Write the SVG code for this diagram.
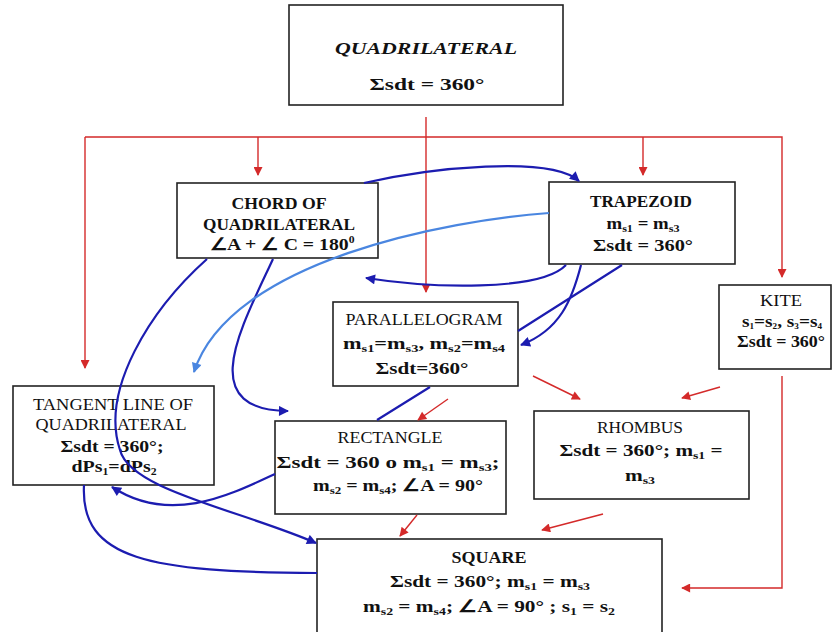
<svg xmlns="http://www.w3.org/2000/svg" width="833" height="632" viewBox="0 0 833 632">
<style>
.box{fill:#fff;stroke:#222;stroke-width:1.6}
text{font-family:"Liberation Serif","Times New Roman",serif;fill:#111;text-anchor:middle;font-size:17px}
.b{font-weight:bold}
.bi{font-weight:bold;font-style:italic}
.r{fill:none;stroke:#d42a2a;stroke-width:1.4}
.bl{fill:none;stroke:#1c1cb0;stroke-width:2.2}
.lb{fill:none;stroke:#4a86e0;stroke-width:2.2}
.sub{font-size:11px}
</style>
<defs>
<marker id="ar" viewBox="0 0 10 10" refX="9" refY="5" markerWidth="11" markerHeight="9" markerUnits="userSpaceOnUse" orient="auto"><path d="M0,0 L10,5 L0,10 z" fill="#d42a2a"/></marker>
<marker id="ab" viewBox="0 0 10 10" refX="9" refY="5" markerWidth="12" markerHeight="10" markerUnits="userSpaceOnUse" orient="auto"><path d="M0,0 L10,5 L0,10 z" fill="#1c1cb0"/></marker>
<marker id="alb" viewBox="0 0 10 10" refX="9" refY="5" markerWidth="12" markerHeight="10" markerUnits="userSpaceOnUse" orient="auto"><path d="M0,0 L10,5 L0,10 z" fill="#4a86e0"/></marker>
</defs>
<rect width="833" height="632" fill="#fff"/>

<g id="quadrilateral">
<rect class="box" x="289" y="5" width="274" height="100"/>
<text class="bi" x="426" y="54" font-size="21" textLength="182" lengthAdjust="spacingAndGlyphs">QUADRILATERAL</text>
<text class="b" x="427" y="90" font-size="21" textLength="115" lengthAdjust="spacingAndGlyphs">Σsdt = 360°</text>
</g>

<g id="chord">
<rect class="box" x="177" y="183" width="201" height="75"/>
<text class="b" x="279" y="209" textLength="95" lengthAdjust="spacingAndGlyphs">CHORD OF</text>
<text class="b" x="279" y="230" textLength="152" lengthAdjust="spacingAndGlyphs">QUADRILATERAL</text>
<text class="b" x="282" y="250" textLength="145" lengthAdjust="spacingAndGlyphs">∠A + ∠ C = 180<tspan font-size="10" dy="-7">0</tspan></text>
</g>

<g id="trapezoid">
<rect class="box" x="549" y="182" width="186" height="82"/>
<text class="b" x="641" y="207" textLength="102" lengthAdjust="spacingAndGlyphs">TRAPEZOID</text>
<text class="b" x="643" y="229" textLength="73" lengthAdjust="spacingAndGlyphs">m<tspan class="sub" dy="3">s1</tspan><tspan dy="-3"> = m</tspan><tspan class="sub" dy="3">s3</tspan></text>
<text class="b" x="643" y="251" textLength="100" lengthAdjust="spacingAndGlyphs">Σsdt = 360°</text>
</g>

<g id="parallelogram">
<rect class="box" x="333" y="302" width="185" height="84"/>
<text x="424" y="325" textLength="157" lengthAdjust="spacingAndGlyphs">PARALLELOGRAM</text>
<text class="b" x="424" y="349" textLength="162" lengthAdjust="spacingAndGlyphs">m<tspan class="sub" dy="3">s1</tspan><tspan dy="-3">=m</tspan><tspan class="sub" dy="3">s3</tspan><tspan dy="-3">, m</tspan><tspan class="sub" dy="3">s2</tspan><tspan dy="-3">=m</tspan><tspan class="sub" dy="3">s4</tspan></text>
<text class="b" x="422" y="374" textLength="93" lengthAdjust="spacingAndGlyphs">Σsdt=360°</text>
</g>

<g id="kite">
<rect class="box" x="719" y="285" width="112" height="84"/>
<text x="781" y="306" textLength="42" lengthAdjust="spacingAndGlyphs">KITE</text>
<text class="b" x="782" y="327" font-size="13" textLength="80" lengthAdjust="spacingAndGlyphs">s<tspan font-size="8" dy="2">1</tspan><tspan dy="-2">=s</tspan><tspan font-size="8" dy="2">2</tspan><tspan dy="-2">, s</tspan><tspan font-size="8" dy="2">3</tspan><tspan dy="-2">=s</tspan><tspan font-size="8" dy="2">4</tspan></text>
<text class="b" x="781" y="347" textLength="88" lengthAdjust="spacingAndGlyphs">Σsdt = 360°</text>
</g>

<g id="tangent">
<rect class="box" x="13" y="386" width="201" height="99"/>
<text x="113" y="410" font-size="18" textLength="160" lengthAdjust="spacingAndGlyphs">TANGENT LINE OF</text>
<text x="111" y="430" font-size="18" textLength="151" lengthAdjust="spacingAndGlyphs">QUADRILATERAL</text>
<text class="b" x="112" y="452" font-size="18" textLength="103" lengthAdjust="spacingAndGlyphs">Σsdt = 360°;</text>
<text class="b" x="114" y="472" font-size="18" textLength="85" lengthAdjust="spacingAndGlyphs">dPs<tspan font-size="10" dy="3">1</tspan><tspan dy="-3">=dPs</tspan><tspan font-size="10" dy="3">2</tspan></text>
</g>

<g id="rectangle">
<rect class="box" x="275" y="421" width="231" height="93"/>
<text x="390" y="443" textLength="105" lengthAdjust="spacingAndGlyphs">RECTANGLE</text>
<text class="b" x="388" y="468" font-size="18" textLength="223" lengthAdjust="spacingAndGlyphs">Σsdt = 360 o m<tspan class="sub" dy="3">s1</tspan><tspan dy="-3"> = m</tspan><tspan class="sub" dy="3">s3</tspan><tspan dy="-3">;</tspan></text>
<text class="b" x="398" y="491" font-size="18" textLength="170" lengthAdjust="spacingAndGlyphs">m<tspan class="sub" dy="3">s2</tspan><tspan dy="-3"> = m</tspan><tspan class="sub" dy="3">s4</tspan><tspan dy="-3">; ∠A = 90°</tspan></text>
</g>

<g id="rhombus">
<rect class="box" x="534" y="411" width="215" height="88"/>
<text x="640" y="433" textLength="86" lengthAdjust="spacingAndGlyphs">RHOMBUS</text>
<text class="b" x="641" y="456" font-size="18" textLength="163" lengthAdjust="spacingAndGlyphs">Σsdt = 360°; m<tspan class="sub" dy="3">s1</tspan><tspan dy="-3"> =</tspan></text>
<text class="b" x="640" y="481" font-size="18" textLength="30" lengthAdjust="spacingAndGlyphs">m<tspan class="sub" dy="3">s3</tspan></text>
</g>

<g id="square">
<rect class="box" x="317" y="539" width="345" height="100"/>
<text class="b" x="489" y="563" font-size="18" textLength="75" lengthAdjust="spacingAndGlyphs">SQUARE</text>
<text class="b" x="490" y="587" font-size="18" textLength="200" lengthAdjust="spacingAndGlyphs">Σsdt = 360°; m<tspan class="sub" dy="3">s1</tspan><tspan dy="-3"> = m</tspan><tspan class="sub" dy="3">s3</tspan></text>
<text class="b" x="489" y="612" font-size="18" textLength="252" lengthAdjust="spacingAndGlyphs">m<tspan class="sub" dy="3">s2</tspan><tspan dy="-3"> = m</tspan><tspan class="sub" dy="3">s4</tspan><tspan dy="-3">; ∠A = 90° ; s</tspan><tspan class="sub" dy="3">1</tspan><tspan dy="-3"> = s</tspan><tspan class="sub" dy="3">2</tspan></text>
</g>

<g id="connectors">
<path class="r" d="M426,117 V292" marker-end="url(#ar)"/>
<path class="r" d="M85,137 V368" marker-end="url(#ar)"/>
<path class="r" d="M85,137 H782 V277" marker-end="url(#ar)"/>
<path class="r" d="M258,137 V175" marker-end="url(#ar)"/>
<path class="r" d="M643,137 V175" marker-end="url(#ar)"/>
<path class="r" d="M533,376 L580,399" marker-end="url(#ar)"/>
<path class="r" d="M720,387 L682,398" marker-end="url(#ar)"/>
<path class="r" d="M448,399 L418,420" marker-end="url(#ar)"/>
<path class="r" d="M417,515 L400,536" marker-end="url(#ar)"/>
<path class="r" d="M603,514 L542,530" marker-end="url(#ar)"/>
<path class="r" d="M782,376 V588 H682" marker-end="url(#ar)"/>

<path class="bl" d="M364,183 C430,168 550,155 579,181" marker-end="url(#ab)"/>
<path class="bl" d="M566,265 C540,292 430,288 366,278" marker-end="url(#ab)"/>
<path class="bl" d="M581,265 C572,300 560,330 521,345" marker-end="url(#ab)"/>
<path class="bl" d="M622,265 L518,331 M430,387 L377,420"/>
<path class="bl" d="M207,259 C150,310 100,390 120,450 C130,490 240,510 316,543" marker-end="url(#ab)"/>
<path class="bl" d="M273,259 C240,330 195,410 288,411" marker-end="url(#ab)"/>
<path class="bl" d="M275,474 C230,495 170,525 112,487" marker-end="url(#ab)"/>
<path class="bl" d="M84,485 C80,560 150,572 317,573"/>
<path class="lb" d="M549,213 C450,220 230,260 194,372" marker-end="url(#alb)"/>
</g>
</svg>
